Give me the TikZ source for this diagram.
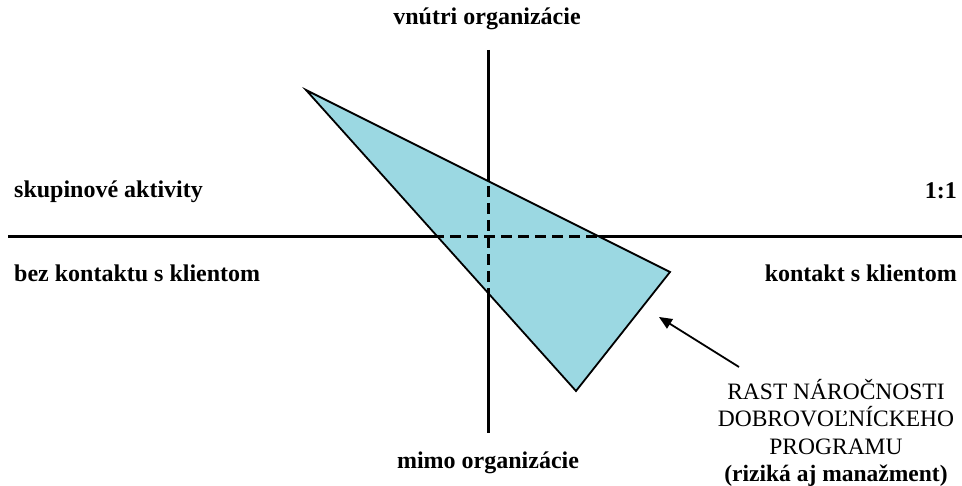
\documentclass[tikz,border=0pt]{standalone}
\usepackage{fontspec}
\setmainfont{Liberation Serif}
\usetikzlibrary{arrows.meta}
\definecolor{triblue}{HTML}{9BD8E2}
\tikzset{
  axis/.style={line width=3pt},
  dashaxis/.style={line width=3pt, dash pattern=on 11pt off 6pt},
  tri/.style={line width=1.8pt, line join=miter},
  lbl/.style={inner sep=0pt, font=\fontsize{24}{28}\selectfont\bfseries},
  pointer/.style={line width=1.8pt, -{Triangle[length=13pt,width=11pt]}}
}
\begin{document}
\begin{tikzpicture}[x=1pt,y=-1pt]
\useasboundingbox (0,0) rectangle (962,486);
% axes
\coordinate (hl) at (8,236.5);
\coordinate (hr) at (962,236.5);
\coordinate (vt) at (488,50);
\coordinate (vb) at (488,433);
\draw[axis] (hl) -- (hr);
\draw[axis] (vt) -- (vb);
% triangle
\coordinate (A) at (306,90);
\coordinate (B) at (670,272);
\coordinate (C) at (576,391);
\fill[triblue] (A) -- (B) -- (C) -- cycle;
\begin{scope}
\clip (A) -- (B) -- (C) -- cycle;
\draw[dashaxis] (hl) -- (hr);
\draw[dashaxis] (vt) -- (vb);
\end{scope}
\draw[tri] (A) -- (B) -- (C) -- cycle;
% labels
\node[lbl, anchor=base] (top) at (487,25) {vnútri organizácie};
\node[lbl, anchor=base] (bot) at (488,468) {mimo organizácie};
\node[lbl, anchor=base west] (skup) at (14,198) {skupinové aktivity};
\node[lbl, anchor=base east] (one) at (957,199) {1:1};
\node[lbl, anchor=base west] (bez) at (14,282) {bez kontaktu s klientom};
\node[lbl, anchor=base east] (kont) at (957,282) {kontakt s klientom};
\node[inner sep=0pt, align=center, anchor=base, font=\fontsize{23.5}{27.5}\selectfont] (rast) at (836,482)
  {RAST NÁROČNOSTI\\DOBROVOĽNÍCKEHO\\PROGRAMU\\\textbf{(riziká aj manažment)}};
% arrow
\coordinate (tail) at (739,367);
\coordinate (tip) at (659,317);
\draw[pointer] (tail) -- (tip);
\end{tikzpicture}
\end{document}
